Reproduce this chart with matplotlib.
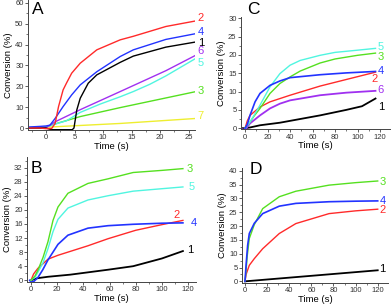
import matplotlib
matplotlib.use("Agg")
import matplotlib.pyplot as plt
from matplotlib.ticker import MultipleLocator

plt.rcParams["font.family"] = ["Liberation Sans", "DejaVu Sans"]

W, H = 392, 304

RED = "#ff2a2a"
BLUE = "#2233ff"
BLACK = "#000000"
PURPLE = "#a030f0"
CYAN = "#50f5e0"
GREEN = "#55e020"
YELLOW = "#eeee30"

# ---- panel A (time in s, conversion in %)
a_red_t = [-3, -1, 0, 1, 1.6, 2.2, 3, 3.6, 4.5, 6, 8.9, 13, 15.3, 21, 26.3]
a_red_v = [0, 0, -0.3, -0.2, 2.2, 10.3, 18.3, 21.6, 26.3, 31.1, 37.5, 42.3, 44, 48.7, 51.4]
a_blue_t = [-3, -1, 0, 0.7, 1.6, 3, 4.5, 6, 8.9, 13, 15.3, 21, 26.3]
a_blue_v = [0.5, 0.8, 1.0, 1.4, 4.6, 10.3, 15.9, 20.7, 27, 34.3, 37.5, 42.5, 45.3]
a_black_t = [-3, 0, 1, 4.6, 4.9, 5.4, 6, 7.4, 8.9, 13, 15.3, 21, 26.3]
a_black_v = [0, 0, -0.8, -0.8, 0, 8.7, 14.3, 21.5, 25.5, 31.5, 34.5, 38.8, 41.3]
a_purple_t = [-3, 0, 0.5, 1.6, 6, 13, 21, 26.3]
a_purple_v = [0, 0.3, 1, 3, 8.8, 17.5, 27.5, 35]
a_cyan_t = [-3, 0, 0.5, 3.6, 6, 9.5, 13, 15.3, 18.2, 21, 26.3]
a_cyan_v = [0.3, 0.5, 1, 3.5, 7.5, 11.5, 15, 17.5, 21, 25, 33.5]
a_green_t = [-3, 0, 1, 6, 13, 26.3]
a_green_v = [0.2, 0.5, 1.5, 5.5, 9.8, 17.5]
a_yellow_t = [-3, 0, 13, 26.3]
a_yellow_v = [0, 0.4, 2.2, 4.6]
a_labels = ["2", "4", "1", "6", "5", "3", "7"]
a_label_y = [52.8, 46, 41, 36.8, 31.4, 18, 6]

# ---- panel B
b_green_t = [0, 3, 5.3, 9.2, 13, 16.8, 20.6, 28.2, 43.5, 58.8, 78, 100, 116]
b_green_v = [0, 1.2, 2.9, 6.5, 11, 17, 20.8, 24.7, 27.5, 28.8, 30.6, 31.2, 31.7]
b_cyan_t = [0, 3, 5.3, 9.2, 13, 16.8, 20.6, 28.2, 43.5, 58.8, 78, 100, 116]
b_cyan_v = [0, 0.8, 2.3, 5.0, 9.0, 13.8, 17.3, 20.5, 22.8, 24.0, 25.3, 26.0, 26.5]
b_blue_t = [-1, 0, 2, 5.3, 9, 13, 16.8, 20.6, 28.2, 43.5, 58.8, 78, 100, 116]
b_blue_v = [0, -0.5, -0.4, 0.8, 3, 5.8, 8, 10.2, 12.8, 14.8, 15.5, 15.9, 16.2, 16.3]
b_red_t = [0, 2, 5.3, 13, 20.6, 43.5, 58.8, 80, 100, 116]
b_red_v = [0, 1.8, 3.4, 6.0, 7.1, 9.8, 11.8, 14.2, 15.8, 17]
b_black_t = [0, 5, 13, 30, 58.8, 78, 90, 100, 116]
b_black_v = [0, 0.6, 1.0, 1.6, 3, 4, 5.2, 6.2, 8.3]
b_labels = ["3", "5", "2", "4", "1"]
b_label_t = [119, 120.5, 109, 122, 119]
b_label_y = [31.5, 26.5, 18.6, 16.3, 8.6]

# ---- panel C
c_cyan_t = [0, 4, 8, 13.3, 22.2, 31, 40, 49, 66.7, 80, 100, 116]
c_cyan_v = [0, 1.5, 3.5, 6.3, 11.3, 14.9, 17.2, 18.5, 19.9, 20.7, 21.3, 21.8]
c_green_t = [0, 4, 8, 13.3, 22.2, 31, 40, 49, 66.7, 80, 100, 116]
c_green_v = [0, 1.5, 3.3, 5.4, 9.5, 12.2, 14, 15.6, 17.8, 18.9, 19.9, 20.5]
c_blue_t = [0, 2, 4.4, 8.9, 13.3, 22.2, 31, 40, 66.7, 90, 116]
c_blue_v = [0, 1, 3.5, 7.2, 9.5, 11.7, 12.9, 13.8, 14.6, 15.1, 15.5]
c_red_t = [0, 2, 4.4, 13.3, 22.2, 40, 66.7, 90, 116]
c_red_v = [0, 2, 3.5, 5.8, 7.2, 9, 11.5, 13.3, 15.3]
c_purple_t = [-2, 0, 4.4, 13.3, 22.2, 31, 40, 66.7, 90, 116]
c_purple_v = [-0.3, -0.5, 1.3, 3.5, 5.4, 6.7, 7.6, 9, 9.7, 10.2]
c_black_t = [-2, 0, 4.4, 13.3, 31, 66.7, 90, 104, 116]
c_black_v = [0, 0, 0.2, 0.8, 1.5, 3.5, 5, 6, 8.1]
c_labels = ["5", "3", "4", "2", "6", "1"]
c_label_t = [118, 118, 118, 112, 118, 118]
c_label_y = [22.3, 19.5, 15.6, 13.5, 10.3, 5.7]

# ---- panel D
d_green_t = [0, 1, 2, 3.9, 8.4, 16, 31, 46, 76, 100, 120]
d_green_v = [0, 4, 9, 15.5, 20.5, 26.3, 30.6, 32.6, 34.8, 35.7, 36.3]
d_blue_t = [0, 1, 2.4, 3.9, 8.4, 16, 31, 46, 76, 100, 120]
d_blue_v = [0, 6, 13, 17.3, 21, 24.5, 27.2, 28.2, 28.8, 29, 29.1]
d_red_t = [0, 1, 3.9, 8.4, 16, 31, 46, 76, 100, 120]
d_red_v = [0, 2.5, 5.8, 8.2, 11.8, 17.3, 20.9, 24.5, 25.5, 26.1]
d_black_t = [0, 60, 120]
d_black_v = [0, 2, 4]
d_labels = ["3", "4", "2", "1"]
d_label_y = [36, 29, 25.7, 4.3]


def add_axes_px(fig, left, top, right, bottom):
    return fig.add_axes([left / W, 1 - bottom / H, (right - left) / W, (bottom - top) / H])


def style_axes(ax, xmaj, xmin, ymaj, ymin):
    for side in ("top", "right"):
        ax.spines[side].set_visible(False)
    for side in ("left", "bottom"):
        ax.spines[side].set_linewidth(0.7)
        ax.spines[side].set_color("#444444")
    ax.xaxis.set_major_locator(MultipleLocator(xmaj))
    ax.xaxis.set_minor_locator(MultipleLocator(xmin))
    ax.yaxis.set_major_locator(MultipleLocator(ymaj))
    ax.yaxis.set_minor_locator(MultipleLocator(ymin))
    ax.tick_params(which="major", direction="out", length=2.2, width=0.6, labelsize=5.5,
                   pad=1, color="#444444", labelcolor="#333333")
    ax.tick_params(which="minor", direction="out", length=1.3, width=0.5, color="#444444")
    ax.set_xlabel("Time (s)", fontsize=6.8, labelpad=0.5)
    ax.set_ylabel("Conversion (%)", fontsize=6.8, labelpad=1.5)


def put_labels(ax, texts, xs, ys, colors):
    for text, x, y, c in zip(texts, xs, ys, colors):
        ax.text(x, y, text, color=c, fontsize=8, ha="left", va="center", clip_on=False)


fig = plt.figure(figsize=(W / 100, H / 100), dpi=100)

# A
axA = add_axes_px(fig, 28, 0, 195, 129.5)
axA.plot(a_yellow_t, a_yellow_v, color=YELLOW, lw=1)
axA.plot(a_green_t, a_green_v, color=GREEN, lw=1)
axA.plot(a_cyan_t, a_cyan_v, color=CYAN, lw=1)
axA.plot(a_purple_t, a_purple_v, color=PURPLE, lw=1)
axA.plot(a_black_t, a_black_v, color=BLACK, lw=1)
axA.plot(a_blue_t, a_blue_v, color=BLUE, lw=1)
axA.plot(a_red_t, a_red_v, color=RED, lw=1)
axA.set_xlim(-3.15, 26.1)
axA.set_ylim(-0.7, 61.4)
style_axes(axA, 5, 2.5, 10, 5)
put_labels(axA, a_labels, [26.6] * 7, a_label_y,
           [RED, BLUE, BLACK, PURPLE, CYAN, GREEN, YELLOW])

# C
axC = add_axes_px(fig, 241, 16.5, 390, 129.3)
axC.plot(c_black_t, c_black_v, color=BLACK, lw=1.3)
axC.plot(c_purple_t, c_purple_v, color=PURPLE, lw=1.3)
axC.plot(c_red_t, c_red_v, color=RED, lw=1)
axC.plot(c_green_t, c_green_v, color=GREEN, lw=1)
axC.plot(c_cyan_t, c_cyan_v, color=CYAN, lw=1)
axC.plot(c_blue_t, c_blue_v, color=BLUE, lw=1.2)
axC.set_xlim(-3.6, 128.9)
axC.set_ylim(-0.3, 30.5)
style_axes(axC, 20, 10, 5, 2.5)
put_labels(axC, c_labels, c_label_t, c_label_y, [CYAN, GREEN, BLUE, RED, PURPLE, BLACK])

# B
axB = add_axes_px(fig, 27, 157, 196, 281.7)
axB.plot(b_black_t, b_black_v, color=BLACK, lw=1.3)
axB.plot(b_red_t, b_red_v, color=RED, lw=1)
axB.plot(b_blue_t, b_blue_v, color=BLUE, lw=1.2)
axB.plot(b_cyan_t, b_cyan_v, color=CYAN, lw=1)
axB.plot(b_green_t, b_green_v, color=GREEN, lw=1)
axB.set_xlim(-3.05, 126)
axB.set_ylim(-0.4, 35)
style_axes(axB, 20, 10, 4, 2)
put_labels(axB, b_labels, b_label_t, b_label_y, [GREEN, CYAN, RED, BLUE, BLACK])

# D
axD = add_axes_px(fig, 242, 168, 388, 283)
axD.plot(d_black_t, d_black_v, color=BLACK, lw=1.3)
axD.plot(d_red_t, d_red_v, color=RED, lw=1)
axD.plot(d_green_t, d_green_v, color=GREEN, lw=1)
axD.plot(d_blue_t, d_blue_v, color=BLUE, lw=1.2)
axD.set_xlim(-2.7, 129.3)
axD.set_ylim(-0.6, 41)
style_axes(axD, 20, 10, 5, 2.5)
put_labels(axD, d_labels, [121.5] * 4, d_label_y, [GREEN, BLUE, RED, BLACK])

# panel letters
for letter, x, y in [("A", 32, 2), ("C", 247.5, 2), ("B", 30.5, 161), ("D", 250, 162)]:
    fig.text(x / W, 1 - y / H, letter, fontsize=12.5, ha="left", va="top")

fig.savefig("out.png", dpi=100)
